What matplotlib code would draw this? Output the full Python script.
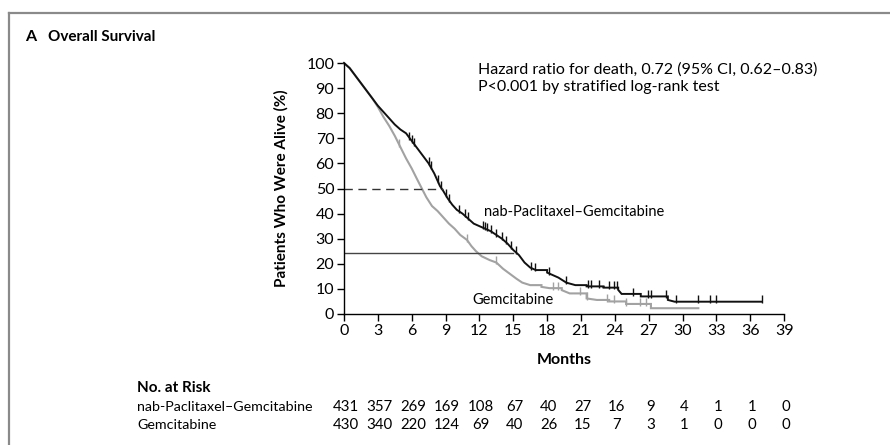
import numpy as np
import matplotlib
matplotlib.use("Agg")
import matplotlib.pyplot as plt
import matplotlib.transforms as mtransforms
from matplotlib.lines import Line2D

plt.rcParams['font.family'] = ['Lato', 'DejaVu Sans']

# Curva de nab-Paclitaxel–Gemcitabine (meses, % vivos)
meses_nab = [0, 0.5, 1.0, 1.5, 2.0, 2.5, 3.0, 3.5, 4.0, 4.5, 5.0, 5.5, 6.0, 6.5, 7.0,
             7.5, 8.0, 8.5, 8.8, 9.2, 9.6, 10.0, 10.5, 11.0, 11.5, 12.0, 12.5, 13.0,
             13.5, 14.0, 14.5, 15.0, 15.5, 16.0, 16.5, 17.0, 18.0, 18.5, 19.0, 19.7,
             20.5, 21.5, 23.0, 24.3, 24.6, 26.3, 28.7, 29.3, 37.0]
vivos_nab = [100, 98, 95, 92, 89, 86, 83, 80.5, 78, 75.5, 73.5, 72, 69, 66, 63,
             60, 56, 51, 49, 46, 43.5, 41.5, 40, 38, 36, 35, 34, 33,
             31.5, 30, 28, 25.5, 23.5, 20.5, 18.5, 17.5, 16.5, 15.5, 14.5, 12.5,
             11.5, 11, 10.5, 9.6, 8, 7, 5.6, 4.9, 4.9]
censura_nab = [5.8, 6.0, 6.2, 7.5, 7.7, 8.3, 8.6, 9.0, 9.3, 10.2, 10.7, 11.0, 12.3,
               12.5, 12.7, 13.0, 13.5, 14.0, 14.4, 14.8, 15.2, 16.6, 16.9, 18.2,
               19.7, 21.6, 21.9, 22.6, 23.5, 23.9, 24.2, 25.6, 26.9, 27.2, 28.5,
               29.4, 31.4, 32.4, 33.0, 37.0]

# Curva de Gemcitabina
meses_gem = [0, 0.5, 1.0, 1.5, 2.0, 2.5, 3.0, 3.5, 4.0, 4.5, 5.0, 5.5, 6.0, 6.5, 6.9,
             7.3, 7.8, 8.3, 8.8, 9.3, 9.8, 10.3, 10.9, 11.3, 11.7, 12.2, 12.9, 13.5,
             14.1, 14.7, 15.3, 15.8, 16.5, 17.5, 18.2, 19.3, 20.0, 21.5, 22.4, 23.5,
             25.0, 27.2, 31.4]
vivos_gem = [100, 98, 95, 92, 89, 86, 82.5, 78.5, 75, 71, 66.5, 62, 58, 53.5, 50,
             46.5, 43, 41, 38.5, 36, 34, 31.5, 29.5, 27, 25, 23, 21.5, 20.5,
             18, 16, 14, 12.5, 11.5, 10.8, 10.3, 9.5, 8.2, 6.2, 5.6, 5,
             4, 2.3, 2.3]
censura_gem = [4.9, 10.9, 13.5, 18.5, 19.0, 20.9, 21.5, 23.3, 23.9, 25.0, 26.2, 26.8]

# Número de pacientes en riesgo
meses_riesgo = [0, 3, 6, 9, 12, 15, 18, 21, 24, 27, 30, 33, 36, 39]
riesgo_nab = [431, 357, 269, 169, 108, 67, 40, 27, 16, 9, 4, 1, 1, 0]
riesgo_gem = [430, 340, 220, 124, 69, 40, 26, 15, 7, 3, 1, 0, 0, 0]

# Medianas / líneas de referencia
mediana_nab = 8.75
linea_ref = 24.5
fin_ref = 15.0


def dibujar_curva(ax, meses, vivos, censura, color, lw):
    # tramos largos como escalón, tramos cortos como línea (muchos eventos pequeños)
    xs, ys = [meses[0]], [vivos[0]]
    for i in range(1, len(meses)):
        if meses[i] - meses[i - 1] > 0.9:
            xs.append(meses[i]); ys.append(vivos[i - 1])
        xs.append(meses[i]); ys.append(vivos[i])
    ax.plot(xs, ys, color=color, lw=lw, clip_on=False, solid_joinstyle="miter")
    yc = np.interp(censura, xs, ys)
    ax.plot(censura, yc + 0.9, ls="none", marker="|", ms=6, mew=1.0, color=color)


def main():
    fig = plt.figure(figsize=(8.9, 4.45), dpi=100)
    ax = fig.add_axes([0.3865, 0.2944, 0.4945, 0.564])

    negro = "#111111"
    gris = "#a2a2a2"

    dibujar_curva(ax, meses_gem, vivos_gem, censura_gem, gris, 1.5)
    dibujar_curva(ax, meses_nab, vivos_nab, censura_nab, negro, 1.4)

    # líneas de mediana
    ax.plot([0, mediana_nab], [50, 50], color="#333333", lw=1.0, ls=(0, (6, 4)))
    ax.plot([0, fin_ref], [linea_ref, linea_ref], color="#444444", lw=1.0)

    ax.set_xlim(0, 39)
    ax.set_ylim(0, 100)
    ax.set_xticks(meses_riesgo)
    ax.set_yticks(range(0, 101, 10))
    ax.spines["top"].set_visible(False)
    ax.spines["right"].set_visible(False)
    ax.spines["left"].set_linewidth(1.0)
    ax.spines["bottom"].set_linewidth(1.0)
    ax.tick_params(direction="out", length=5, width=1, labelsize=11.5, pad=2)

    ax.set_ylabel("Patients Who Were Alive (%)", fontsize=11, fontweight="bold")
    ax.yaxis.set_label_coords(-0.127, 0.5)
    ax.set_xlabel("Months", fontsize=11.5, fontweight="bold")
    ax.xaxis.set_label_coords(0.5, -0.155)

    ax.text(11.9, 97.2, "Hazard ratio for death, 0.72 (95% CI, 0.62\u20130.83)",
            fontsize=11.5, va="center")
    ax.text(11.9, 90.5, "P<0.001 by stratified log-rank test", fontsize=11.5, va="center")
    ax.text(12.4, 40.6, "nab-Paclitaxel\u2013Gemcitabine", fontsize=10.5, va="center")
    ax.text(11.4, 5.6, "Gemcitabine", fontsize=10.5, va="center")

    # título
    fig.text(25 / 890, 1 - 37 / 445, "A", fontsize=11.5, fontweight="bold", va="center")
    fig.text(48 / 890, 1 - 37 / 445, "Overall Survival", fontsize=11, fontweight="bold", va="center")

    # tabla de pacientes en riesgo
    fig.text(137 / 890, 1 - 388 / 445, "No. at Risk", fontsize=11, fontweight="bold", va="center")
    trans = mtransforms.blended_transform_factory(ax.transData, fig.transFigure)
    filas = [("nab-Paclitaxel\u2013Gemcitabine", riesgo_nab, 407),
             ("Gemcitabine", riesgo_gem, 425)]
    for nombre, valores, ypx in filas:
        yf = 1 - ypx / 445
        fig.text(137 / 890, yf, nombre, fontsize=10.3, va="center")
        for m, v in zip(meses_riesgo, valores):
            ax.text(m + 0.15, yf, str(v), fontsize=10.8, va="center", ha="center",
                    transform=trans, clip_on=False)

    # marco gris de la figura
    fig.add_artist(Line2D([9 / 890, 1], [1 - 13 / 445, 1 - 13 / 445], color="#8a8a8a", lw=1.6))
    fig.add_artist(Line2D([9 / 890, 9 / 890], [0, 1 - 13 / 445], color="#8a8a8a", lw=1.6))

    fig.savefig("out.png", dpi=100)


if __name__ == "__main__":
    main()
